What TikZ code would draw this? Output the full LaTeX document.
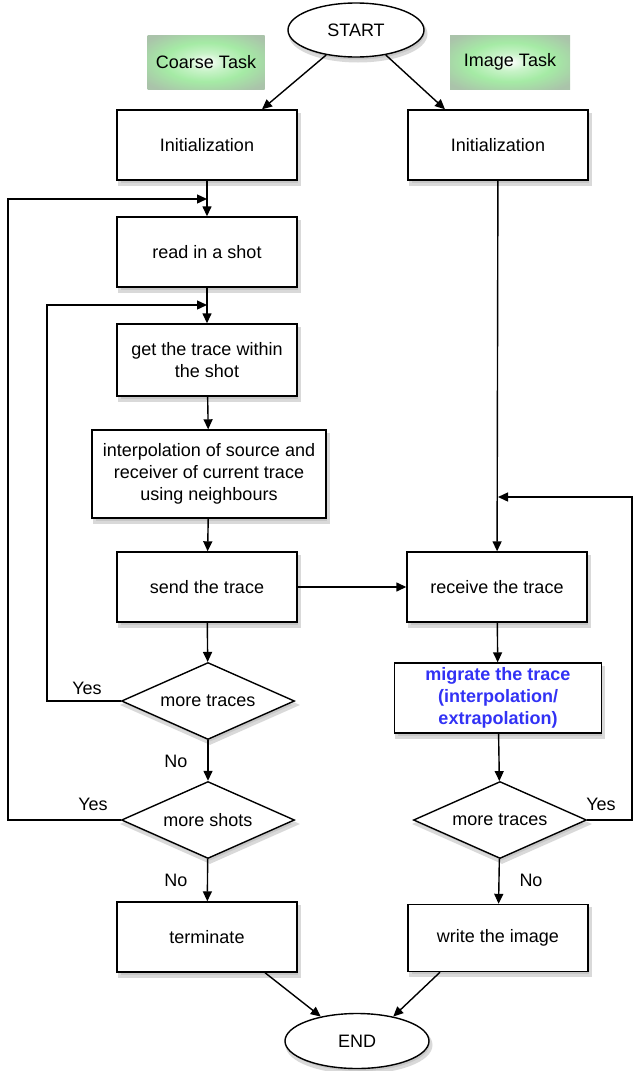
\documentclass[tikz,border=0pt]{standalone}
\usepackage{fontspec}
\setmainfont{Liberation Sans}
\usetikzlibrary{arrows.meta,shapes.geometric}
\definecolor{migblue}{RGB}{50,50,245}
\definecolor{taskmid}{RGB}{165,235,165}
\definecolor{taskout}{RGB}{170,195,170}
\pgfdeclareradialshading{taskglow}{\pgfpoint{0bp}{0bp}}{color(0bp)=(white);color(8bp)=(taskmid!60!white);color(18bp)=(taskmid);color(32bp)=(taskout);color(50bp)=(taskout)}
\begin{document}
\begin{tikzpicture}[x=1pt,y=-1pt,line width=1.4pt,
	every node/.style={align=center,font=\fontsize{18}{22}\selectfont},
	shadowed/.style={preaction={draw=black!15,line width=3pt,fill=black!22,transform canvas={xshift=2pt,yshift=-4pt}}},
	box/.style={draw,fill=white,shadowed,minimum width=180pt,minimum height=70pt,inner sep=2pt},
	test/.style={diamond,draw,fill=white,shadowed,aspect=2.25,minimum width=173pt,minimum height=77pt,inner sep=0pt},
	term/.style={ellipse,draw,fill=white,shadowed,inner sep=0pt},
	task/.style={shading=taskglow,minimum width=117pt,minimum height=54pt},
	arr/.style={-{Triangle[length=10pt,width=9pt]}}]
	\useasboundingbox (0,0) rectangle (633,1071);
	
	\node[term,minimum width=136pt,minimum height=54pt](start)at(356,30){START};
	\node[term,minimum width=144pt,minimum height=55pt](end)at(357,1041){END};
	\node[task](t1)at(206,62){Coarse Task};
	\node[task,minimum width=120pt](t2)at(510,62){Image Task};
	
	% coarse task
	\node[box](initL)at(207,145){Initialization};
	\node[box](read)at(207,252){read in a shot};
	\node[box,minimum height=72pt](get)at(207,360){get the trace within\\the shot};
	\node[box,minimum width=234pt,minimum height=88pt](interp)at(209,474){interpolation of source and\\receiver of current trace\\using neighbours};
	\node[box](send)at(207,587){send the trace};
	\node[test](tracesL)at(208,701){more traces};
	\node[test](shots)at(208,820){more shots};
	\node[box](stop)at(207,937){terminate};
	
	% image task
	\node[box](initR)at(498,145){Initialization};
	\node[box](recv)at(497,587){receive the trace};
	\node[box,minimum width=207pt,font=\fontsize{18}{22}\selectfont\bfseries,text=migblue](mig)at(498,698){migrate the trace\\(interpolation/\\extrapolation)};
	\node[test](tracesR)at(500,820){more traces};
	\node[box,minimum height=67pt](write)at(498,938){write the image};
	
	\node(y1)at(87,688){Yes};
	\node(y2)at(93,804){Yes};
	\node(y3)at(601,804){Yes};
	\node(n1)at(176,761){No};
	\node(n2)at(176,880){No};
	\node(n3)at(531,880){No};
	
	\coordinate(j1)at(207,199);
	\coordinate(j2)at(207,305);
	\coordinate(j3)at(498,497);
	\coordinate(c1)at(8,199);
	\coordinate(c2)at(47,305);
	\coordinate(c3)at(632,497);
	
	\draw[arr](start.-140)--([xshift=55pt]initL.north);
	\draw[arr](start.-40)--([xshift=-53pt]initR.north);
	\foreach \x/\y in{initL/read,read/get,get/interp,interp/send,send/tracesL,tracesL/shots,shots/stop,initR/recv,recv/mig,mig/tracesR,tracesR/write}
	\draw[arr](\x)--(\y);
	\draw[arr](send)--(recv);
	\draw[arr](shots.west)-|(c1)--(j1);
	\draw[arr](tracesL.west)-|(c2)--(j2);
	\draw[arr](tracesR.east)-|(c3)--(j3);
	\draw[arr]([xshift=58pt]stop.south)--(end.146);
	\draw[arr]([xshift=-58pt]write.south)--(end.34);
\end{tikzpicture}
\end{document}
